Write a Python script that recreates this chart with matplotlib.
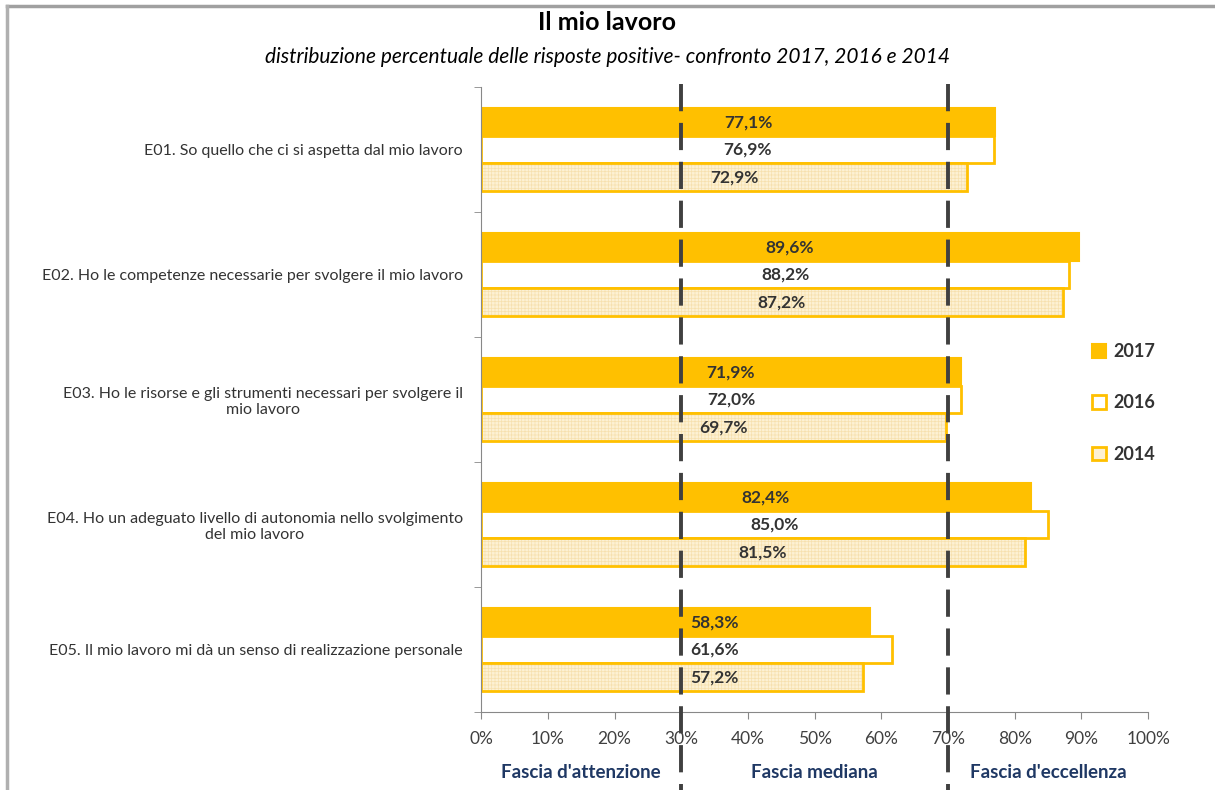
import matplotlib
matplotlib.use("Agg")
import matplotlib.pyplot as plt
from matplotlib.patches import Patch
from matplotlib.lines import Line2D
import numpy as np

plt.rcParams['font.family'] = ['Lato', 'DejaVu Sans']
plt.rcParams['hatch.linewidth'] = 0.5

# domande e percentuali di risposte positive
domande = [
    "E01. So quello che ci si aspetta dal mio lavoro",
    "E02. Ho le competenze necessarie per svolgere il mio lavoro",
    "E03. Ho le risorse e gli strumenti necessari per svolgere il\nmio lavoro",
    "E04. Ho un adeguato livello di autonomia nello svolgimento\ndel mio lavoro",
    "E05. Il mio lavoro mi dà un senso di realizzazione personale",
]
anni = ["2017", "2016", "2014"]
val_2017 = [77.1, 89.6, 71.9, 82.4, 58.3]
val_2016 = [76.9, 88.2, 72.0, 85.0, 61.6]
val_2014 = [72.9, 87.2, 69.7, 81.5, 57.2]
soglie = [30, 70]
fasce = ["Fascia d'attenzione", "Fascia mediana", "Fascia d'eccellenza"]

giallo = '#FFC000'
testo = '#333333'

fig = plt.figure(figsize=(12.15, 7.9), dpi=100)
ax = fig.add_axes([0.396, 0.0987, 0.549, 0.791])

y = np.arange(len(domande))
h = 0.22

# barre: 2017 piena, 2016 vuota, 2014 chiara con trama
ax.barh(y - h, val_2017, height=h, color=giallo, edgecolor=giallo, linewidth=1.5, zorder=2)
ax.barh(y, val_2016, height=h, color='white', edgecolor=giallo, linewidth=2, zorder=2)
ax.barh(y + h, val_2014, height=h, color='#FDF1D3', edgecolor='#F6E0AE', linewidth=0,
        hatch='+++++', zorder=2)
ax.barh(y + h, val_2014, height=h, fill=False, edgecolor=giallo, linewidth=2, zorder=2)

# etichette con i valori, spostate a destra della prima soglia se serve
for off, serie in zip([-h, 0, h], [val_2017, val_2016, val_2014]):
    for i, v in enumerate(serie):
        ax.text(max(v / 2 + 1.5, soglie[0] + 5), i + off, f"{v:.1f}%".replace('.', ','),
                ha='center', va='center', fontsize=12.5, fontweight='bold', color=testo, zorder=4)

ax.set_xlim(0, 100)
ax.set_ylim(len(domande) - 0.5, -0.5)

ax.set_xticks(np.arange(0, 101, 10))
ax.set_xticklabels([f"{t}%" for t in range(0, 101, 10)], fontsize=12.5, color='#404040')
ax.tick_params(axis='x', length=5, color='#888888', pad=9)

ax.set_yticks(y)
ax.set_yticklabels(domande, fontsize=11.5, color=testo, multialignment='center')
ax.set_yticks(np.arange(-0.5, len(domande), 1), minor=True)
ax.tick_params(axis='y', which='major', length=0, pad=13)
ax.tick_params(axis='y', which='minor', length=5, color='#888888')

for s in ['top', 'right']:
    ax.spines[s].set_visible(False)
for s in ['left', 'bottom']:
    ax.spines[s].set_color('#888888')

# soglie delle fasce
trans = ax.get_xaxis_transform()
for s in soglie:
    ax.plot([s, s], [1.005, -0.14], transform=trans, color='#404040', lw=2.8,
            dashes=(7, 3), clip_on=False, zorder=5)

limiti = [0] + soglie + [100]
for k, nome in enumerate(fasce):
    ax.text((limiti[k] + limiti[k + 1]) / 2, -0.097, nome, transform=trans, ha='center',
            va='center', fontsize=13.5, fontweight='bold', color='#1F3864')

# legenda
handles = [
    Patch(facecolor=giallo, edgecolor=giallo, linewidth=1.5),
    Patch(facecolor='white', edgecolor=giallo, linewidth=2),
    Patch(facecolor='#FDF1D3', edgecolor=giallo, linewidth=2),
]
fig.legend(handles, anni, loc='center left', bbox_to_anchor=(0.885, 0.49), frameon=False,
           handlelength=0.8, handleheight=0.8, labelspacing=1.9, handletextpad=0.4,
           prop={'size': 13, 'weight': 'bold'}, labelcolor=testo)

# titolo
fig.text(0.5, 0.971, "Il mio lavoro", ha='center', va='center', fontsize=18,
         fontweight='bold', color='black')
fig.text(0.5, 0.928, "distribuzione percentuale delle risposte positive- confronto 2017, 2016 e 2014",
         ha='center', va='center', fontsize=15, style='italic', color='black')

# cornice
fig.add_artist(Line2D([0.006, 1.0], [0.992, 0.992], color='#A0A0A0', lw=2.5))
fig.add_artist(Line2D([0.006, 0.006], [0.0, 0.992], color='#B0B0B0', lw=2.5))

fig.savefig('out.png', dpi=100)
